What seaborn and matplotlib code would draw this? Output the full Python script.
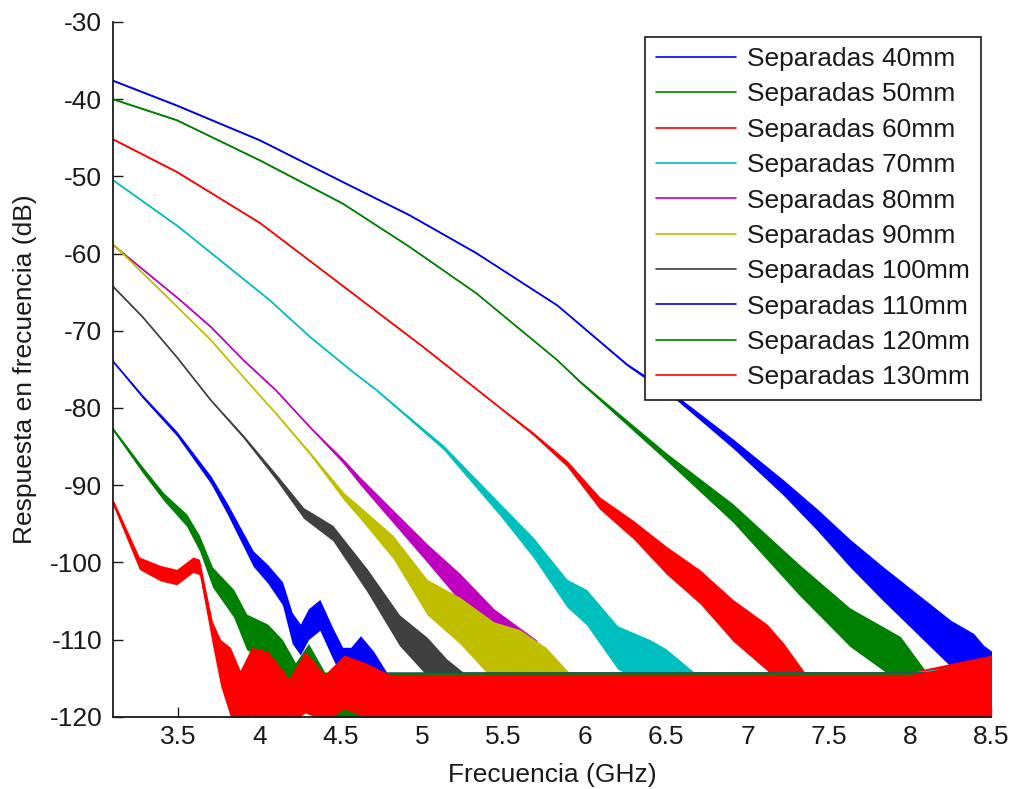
import numpy as np
import pandas as pd
import matplotlib
matplotlib.use("Agg")
import matplotlib.pyplot as plt
import seaborn as sns

# ---------------- data ----------------
separations = [40, 50, 60, 70, 80, 90, 100, 110, 120, 130]
colors = ["#0000ff", "#008000", "#ff0000", "#00bfbf", "#bf00bf",
          "#bfbf00", "#404040", "#0000ff", "#008000", "#ff0000"]
x_ticks = [3.5, 4, 4.5, 5, 5.5, 6, 6.5, 7, 7.5, 8, 8.5]
x_tick_labels = ["3.5", "4", "4.5", "5", "5.5", "6", "6.5", "7", "7.5", "8", "8.5"]
y_ticks = [-30, -40, -50, -60, -70, -80, -90, -100, -110, -120]
y_tick_labels = ["-30", "-40", "-50", "-60", "-70", "-80", "-90", "-100", "-110", "-120"]

# frequency (GHz), response (dB), noise half-width (dB)
freq_40 = [3.10, 3.49, 4.00, 4.51, 4.92, 5.33, 5.83, 6.26, 6.57, 6.91, 7.22, 7.43, 7.63, 7.83, 8.04, 8.25, 8.39, 8.45, 8.50]
db_40 = [-37.6, -40.8, -45.3, -50.7, -55.0, -59.9, -66.7, -74.4, -78.8, -84.6, -90.3, -94.5, -98.8, -102.7, -106.6, -110.5, -112.7, -114.5, -115.5]
spread_40 = [0.1, 0.1, 0.1, 0.1, 0.1, 0.1, 0.1, 0.15, 0.3, 0.6, 1.0, 1.4, 1.8, 2.2, 2.6, 3.0, 3.5, 3.8, 4.0]

freq_50 = [3.10, 3.49, 4.00, 4.51, 4.92, 5.33, 5.83, 5.97, 6.50, 6.91, 7.32, 7.63, 7.94, 8.10, 8.40, 8.50]
db_50 = [-40.0, -42.7, -47.9, -53.5, -59.1, -65.1, -73.8, -76.6, -86.3, -93.6, -102.3, -108.4, -112.6, -117.5, -117.0, -116.0]
spread_50 = [0.1, 0.1, 0.1, 0.1, 0.1, 0.1, 0.1, 0.15, 0.5, 1.2, 2.0, 2.5, 3.0, 3.3, 3.5, 4.0]

freq_60 = [3.10, 3.49, 4.00, 4.50, 5.00, 5.48, 5.68, 5.89, 6.09, 6.30, 6.50, 6.71, 6.91, 7.12, 7.22, 7.35, 8.00, 8.50]
db_60 = [-45.2, -49.4, -56.0, -64.0, -72.0, -80.0, -83.3, -87.2, -92.3, -95.8, -99.7, -103.2, -107.5, -111.0, -113.6, -117.5, -117.5, -116.0]
spread_60 = [0.1, 0.1, 0.1, 0.1, 0.1, 0.1, 0.2, 0.4, 0.8, 1.2, 1.8, 2.2, 2.7, 3.0, 3.2, 3.3, 3.3, 4.0]

freq_70 = [3.10, 3.50, 4.06, 4.31, 4.56, 4.72, 5.13, 5.48, 5.68, 5.89, 6.01, 6.20, 6.40, 6.50, 6.67, 8.00, 8.50]
db_70 = [-50.5, -56.5, -66.0, -70.8, -75.1, -77.7, -85.1, -93.2, -98.0, -104.0, -105.8, -111.0, -113.0, -114.4, -117.5, -117.5, -116.5]
spread_70 = [0.1, 0.1, 0.1, 0.1, 0.1, 0.1, 0.3, 0.8, 1.3, 1.8, 2.3, 2.8, 3.0, 3.2, 3.3, 3.3, 3.5]

freq_80 = [3.10, 3.51, 3.70, 3.90, 4.10, 4.31, 4.51, 4.62, 5.03, 5.23, 5.44, 5.55, 5.70, 5.82, 8.50]
db_80 = [-58.9, -66.0, -69.5, -73.8, -77.7, -82.5, -86.8, -89.5, -98.8, -103.2, -108.5, -110.5, -113.0, -117.5, -117.5]
spread_80 = [0.1, 0.1, 0.1, 0.1, 0.1, 0.1, 0.3, 0.5, 1.2, 1.8, 2.5, 2.8, 3.0, 3.3, 3.3]

freq_90 = [3.10, 3.45, 3.70, 3.90, 4.10, 4.31, 4.52, 4.62, 4.82, 5.03, 5.23, 5.44, 5.60, 5.76, 5.90, 8.50]
db_90 = [-58.8, -66.0, -71.2, -76.0, -80.7, -85.9, -91.5, -93.6, -98.0, -104.5, -107.5, -111.5, -112.5, -114.5, -117.5, -117.5]
spread_90 = [0.1, 0.1, 0.1, 0.1, 0.1, 0.2, 0.5, 0.8, 1.5, 2.3, 3.0, 3.8, 3.8, 3.5, 3.3, 3.3]

freq_100 = [3.10, 3.28, 3.49, 3.70, 3.90, 4.10, 4.27, 4.45, 4.66, 4.86, 5.03, 5.15, 5.25, 8.50]
db_100 = [-64.3, -68.2, -73.4, -79.0, -83.7, -88.9, -93.6, -96.2, -102.3, -108.8, -112.2, -115.5, -117.5, -117.5]
spread_100 = [0.1, 0.1, 0.1, 0.1, 0.2, 0.4, 0.7, 1.0, 1.5, 2.0, 2.5, 3.0, 3.3, 3.3]

freq_110 = [3.10, 3.28, 3.49, 3.70, 3.80, 3.96, 4.05, 4.14, 4.20, 4.25, 4.30, 4.37, 4.45, 4.51, 4.56, 4.62, 4.70, 4.78, 8.50]
db_110 = [-74.0, -78.5, -83.3, -89.3, -93.0, -99.5, -101.5, -104.0, -108.5, -110.0, -108.0, -106.8, -110.5, -113.0, -113.5, -112.0, -114.5, -117.5, -117.5]
spread_110 = [0.1, 0.2, 0.3, 0.5, 0.7, 1.0, 1.2, 1.5, 2.0, 2.0, 2.0, 2.0, 2.0, 2.0, 2.5, 2.5, 3.0, 3.3, 3.3]

freq_120 = [3.10, 3.28, 3.41, 3.55, 3.63, 3.71, 3.84, 3.92, 4.05, 4.14, 4.22, 4.30, 4.40, 8.50]
db_120 = [-82.8, -88.0, -91.5, -94.5, -97.5, -101.9, -105.3, -109.0, -110.5, -113.0, -116.5, -114.0, -117.5, -117.5]
spread_120 = [0.2, 0.4, 0.5, 0.8, 1.0, 1.3, 1.8, 2.3, 2.5, 3.0, 3.5, 3.5, 3.3, 3.3]

freq_130 = [3.10, 3.18, 3.26, 3.39, 3.49, 3.59, 3.63, 3.67, 3.71, 3.76, 3.82, 3.88, 3.95,
            4.05, 4.18, 4.28, 4.40, 4.52, 4.65, 4.80, 5.00, 6.00, 7.00, 8.00, 8.40, 8.50]
db_130 = [-92.3, -96.2, -100.1, -101.4, -101.9, -100.3, -100.6, -104.9, -109.2, -113.0, -115.5, -117.5, -115.5,
          -116.0, -118.0, -115.5, -117.5, -115.5, -116.5, -117.5, -117.5, -117.5, -117.5, -117.5, -116.5, -116.0]
spread_130 = [0.4, 0.6, 0.8, 1.0, 1.0, 1.0, 1.0, 1.2, 1.5, 3.0, 4.5, 3.5, 4.5,
              4.5, 3.0, 4.0, 3.0, 3.5, 3.5, 3.0, 3.0, 3.0, 3.0, 3.0, 3.5, 4.0]

freqs = [freq_40, freq_50, freq_60, freq_70, freq_80, freq_90, freq_100, freq_110, freq_120, freq_130]
dbs = [db_40, db_50, db_60, db_70, db_80, db_90, db_100, db_110, db_120, db_130]
spreads = [spread_40, spread_50, spread_60, spread_70, spread_80, spread_90, spread_100, spread_110, spread_120, spread_130]
labels = [f"Separadas {s}mm" for s in separations]

rows = []
for lab, f, d, s in zip(labels, freqs, dbs, spreads):
    for fi, di, si in zip(f, d, s):
        rows.append({"freq": fi, "db": di, "lo": di - si, "hi": di + si, "label": lab})
df = pd.DataFrame(rows)

# ---------------- style ----------------
sns.set_style("ticks")
plt.rcParams["font.family"] = ["Liberation Sans", "DejaVu Sans"]
FS = 19

W, H = 1013, 789
fig = plt.figure(figsize=(W / 100, H / 100), dpi=100)
ax = fig.add_axes([113.3 / W, 1 - 716.8 / H, 878.2 / W, 694.8 / H])

for i, (lab, col) in enumerate(zip(labels, colors)):
    sub = df[df["label"] == lab]
    z = 2 + i * 0.1
    ax.fill_between(sub["freq"], sub["lo"], sub["hi"], color=col, linewidth=0, zorder=z)
    sns.lineplot(data=sub, x="freq", y="db", color=col, linewidth=1.2,
                 estimator=None, sort=False, ax=ax, legend=False)
    ax.lines[-1].set_zorder(z + 0.05)

ax.set_xlim(3.1, 8.5)
ax.set_ylim(-120, -30)
ax.set_xticks(x_ticks)
ax.set_xticklabels(x_tick_labels)
ax.set_yticks(y_ticks)
ax.set_yticklabels(y_tick_labels)
sns.despine(ax=ax)
for sp in ["left", "bottom"]:
    ax.spines[sp].set_linewidth(1.3)
    ax.spines[sp].set_color("#1a1a1a")
    ax.spines[sp].set_zorder(5)
ax.tick_params(axis="both", direction="in", length=7, width=1.0, color="#1a1a1a",
               labelsize=FS, labelcolor="#1a1a1a")
ax.tick_params(axis="x", pad=6)
ax.tick_params(axis="y", pad=8)

ax.set_xlabel("Frecuencia (GHz)", fontsize=FS, color="#1a1a1a")
ax.set_ylabel("Respuesta en frecuencia (dB)", fontsize=FS, color="#1a1a1a")
ax.xaxis.set_label_coords(0.5, -0.066)
ax.yaxis.set_label_coords(-0.087, 0.5)

handles = ax.lines[:len(labels)]
leg = ax.legend(handles, labels, loc="upper right", bbox_to_anchor=(0.988, 0.979),
                borderaxespad=0, fontsize=FS, frameon=True, fancybox=False,
                edgecolor="#1a1a1a", framealpha=1, handlelength=3.05,
                handletextpad=0.42, labelspacing=0.43, borderpad=0.4)
leg.get_frame().set_linewidth(1.2)
leg.set_zorder(10)
for t in leg.get_texts():
    t.set_color("#1a1a1a")

fig.savefig("out.png", dpi=100)
